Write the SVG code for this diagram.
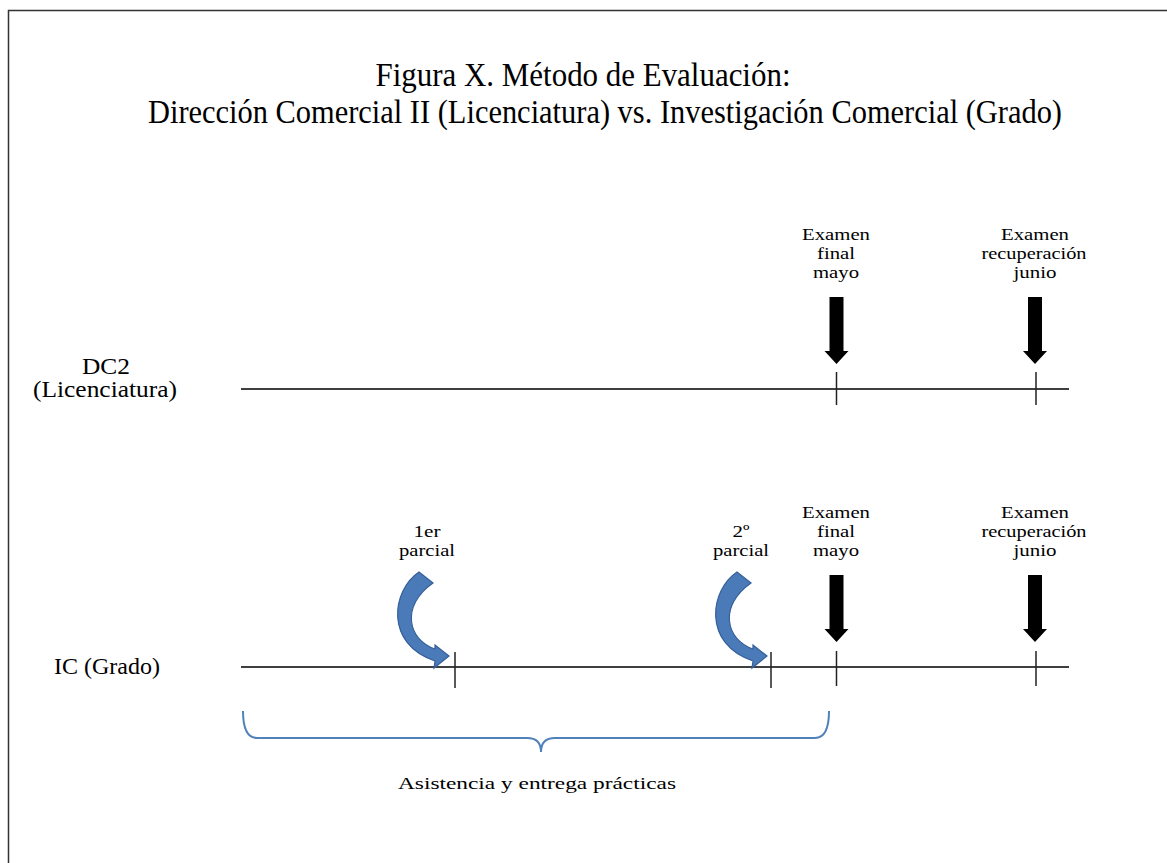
<svg xmlns="http://www.w3.org/2000/svg" xmlns:xlink="http://www.w3.org/1999/xlink" width="1167" height="863" viewBox="0 0 1167 863">
<style>
text{font-family:"Liberation Serif","Times New Roman",serif;fill:#000}
.t{font-size:33px}
.l{font-size:17px}
.s{font-size:23px}
.axis{stroke:#000;stroke-width:1.5;fill:none}
.tick{stroke:#222;stroke-width:1.5}
.blk{fill:#000}
.curl{fill:#4a7ab8;stroke:#35609a;stroke-width:1.2}
.brace{fill:none;stroke:#4f81bd;stroke-width:2}
</style>
<defs>
<path id="curl" d="M419 572 C392 590 384 644 435 661 L434 668 L449 656 L435 645 L435 649 C408 640 400 606 433 583 Z"/>
<polygon id="down" points="-7,0 7,0 7,54 12,54 0,67 -12,54 -7,54"/>
</defs>
<rect x="8.5" y="10.5" width="1170" height="870" fill="#fff" stroke="#333" stroke-width="1.5"/>
<g id="title">
<text class="t" x="583" y="86" text-anchor="middle" textLength="415" lengthAdjust="spacingAndGlyphs">Figura X. Método de Evaluación:</text>
<text class="t" x="605" y="123" text-anchor="middle" textLength="914" lengthAdjust="spacingAndGlyphs">Dirección Comercial II (Licenciatura) vs. Investigación Comercial (Grado)</text>
</g>
<g id="connectors">
<line class="axis" x1="241" y1="389" x2="1069" y2="389"/>
<line class="axis" x1="241" y1="667" x2="1069" y2="667"/>
<line class="tick" x1="836.5" y1="372" x2="836.5" y2="405"/>
<line class="tick" x1="1036" y1="372" x2="1036" y2="405"/>
<line class="tick" x1="455" y1="652" x2="455" y2="688"/>
<line class="tick" x1="771" y1="652" x2="771" y2="688"/>
<line class="tick" x1="836.5" y1="651" x2="836.5" y2="686"/>
<line class="tick" x1="1036" y1="651" x2="1036" y2="686"/>
<use xlink:href="#down" class="blk" transform="translate(836.5,297)"/>
<use xlink:href="#down" class="blk" transform="translate(1035,297)"/>
<use xlink:href="#down" class="blk" transform="translate(836.5,575)"/>
<use xlink:href="#down" class="blk" transform="translate(1035,575)"/>
<use xlink:href="#curl" class="curl"/>
<use xlink:href="#curl" class="curl" transform="translate(318,0)"/>
<path class="brace" d="M243 711 Q243 738 257 738 L527 738 Q541 738 541 752 Q541 738 555 738 L815 738 Q829 738 829 711"/>
</g>
<g id="dc2-label">
<text class="s" x="106" y="374" text-anchor="middle" textLength="48" lengthAdjust="spacingAndGlyphs">DC2</text>
<text class="s" x="105" y="397" text-anchor="middle" textLength="144" lengthAdjust="spacingAndGlyphs">(Licenciatura)</text>
</g>
<g id="ic-label">
<text class="s" x="107" y="674" text-anchor="middle" textLength="106" lengthAdjust="spacingAndGlyphs">IC (Grado)</text>
</g>
<g id="dc2-final">
<text class="l" x="836" y="240" text-anchor="middle" textLength="68" lengthAdjust="spacingAndGlyphs">Examen</text>
<text class="l" x="836" y="259" text-anchor="middle" textLength="38" lengthAdjust="spacingAndGlyphs">final</text>
<text class="l" x="836" y="278" text-anchor="middle" textLength="46" lengthAdjust="spacingAndGlyphs">mayo</text>
</g>
<g id="dc2-recup">
<text class="l" x="1035" y="240" text-anchor="middle" textLength="68" lengthAdjust="spacingAndGlyphs">Examen</text>
<text class="l" x="1034" y="259" text-anchor="middle" textLength="105" lengthAdjust="spacingAndGlyphs">recuperación</text>
<text class="l" x="1035" y="278" text-anchor="middle" textLength="43" lengthAdjust="spacingAndGlyphs">junio</text>
</g>
<g id="ic-parcial1">
<text class="l" x="427" y="537" text-anchor="middle" textLength="27" lengthAdjust="spacingAndGlyphs">1er</text>
<text class="l" x="427" y="556" text-anchor="middle" textLength="56" lengthAdjust="spacingAndGlyphs">parcial</text>
</g>
<g id="ic-parcial2">
<text class="l" x="741" y="537" text-anchor="middle" textLength="17" lengthAdjust="spacingAndGlyphs">2º</text>
<text class="l" x="741" y="556" text-anchor="middle" textLength="56" lengthAdjust="spacingAndGlyphs">parcial</text>
</g>
<g id="ic-final">
<text class="l" x="836" y="518" text-anchor="middle" textLength="68" lengthAdjust="spacingAndGlyphs">Examen</text>
<text class="l" x="836" y="537" text-anchor="middle" textLength="38" lengthAdjust="spacingAndGlyphs">final</text>
<text class="l" x="836" y="556" text-anchor="middle" textLength="46" lengthAdjust="spacingAndGlyphs">mayo</text>
</g>
<g id="ic-recup">
<text class="l" x="1035" y="518" text-anchor="middle" textLength="68" lengthAdjust="spacingAndGlyphs">Examen</text>
<text class="l" x="1034" y="537" text-anchor="middle" textLength="105" lengthAdjust="spacingAndGlyphs">recuperación</text>
<text class="l" x="1035" y="556" text-anchor="middle" textLength="43" lengthAdjust="spacingAndGlyphs">junio</text>
</g>
<g id="brace-label">
<text class="l" x="537" y="789" text-anchor="middle" textLength="278" lengthAdjust="spacingAndGlyphs">Asistencia y entrega prácticas</text>
</g>
</svg>
